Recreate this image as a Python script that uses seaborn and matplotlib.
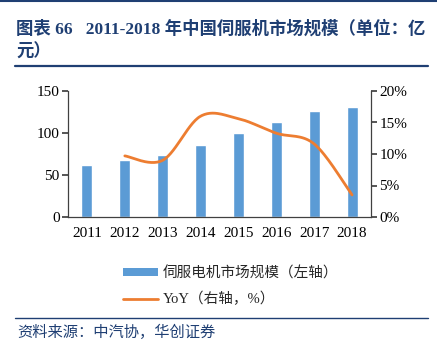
import numpy as np
import pandas as pd
import seaborn as sns
import matplotlib.pyplot as plt
from matplotlib.lines import Line2D
from matplotlib.patches import Patch

# --- data ---
years = ["2011", "2012", "2013", "2014", "2015", "2016", "2017", "2018"]
market_size = [62, 68, 74, 86, 100, 113, 126, 131]          # 亿元, left axis
yoy_years = ["2012", "2013", "2014", "2015", "2016", "2017", "2018"]
yoy_pct = [9.7, 9.0, 16.0, 15.6, 13.3, 11.6, 3.5]            # %, right axis

bar_color = "#5B9BD5"
line_color = "#ED7D31"
navy = "#1F3F73"

sns.set_theme(style="white")
plt.rcParams["font.family"] = ["Liberation Serif", "Noto Sans CJK SC", "DejaVu Sans"]
cjk = ["Noto Sans CJK SC", "DejaVu Sans"]
mixed = ["Liberation Serif", "Noto Sans CJK SC"]


def smooth(xs, ys, n=30):
    # Catmull-Rom path, like a spreadsheet "smoothed line"
    xs = np.asarray(xs, float)
    ys = np.asarray(ys, float)
    px = np.r_[xs[0], xs, xs[-1]]
    py = np.r_[ys[0], ys, ys[-1]]
    out_x, out_y = [], []
    t = np.linspace(0, 1, n)
    for i in range(1, len(px) - 2):
        for p, out in ((px, out_x), (py, out_y)):
            p0, p1, p2, p3 = p[i - 1], p[i], p[i + 1], p[i + 2]
            seg = 0.5 * (2 * p1 + (-p0 + p2) * t
                         + (2 * p0 - 5 * p1 + 4 * p2 - p3) * t ** 2
                         + (-p0 + 3 * p1 - 3 * p2 + p3) * t ** 3)
            out.extend(seg)
    return np.array(out_x), np.array(out_y)


df = pd.DataFrame({"year": years, "size": market_size})

fig = plt.figure(figsize=(4.37, 3.5), dpi=100)
ax = fig.add_axes([68 / 437, 1 - 217 / 350, (371 - 68) / 437, (217 - 91) / 350])

sns.barplot(data=df, x="year", y="size", color=bar_color, width=0.29,
            saturation=1, ax=ax)
ax.set_xlim(-0.5, len(years) - 0.5)
ax.set_ylim(0, 150)
ax.set_yticks([0, 50, 100, 150])
ax.set_xlabel("")
ax.set_ylabel("")

# x ticks sit between categories, as in the source
ax.set_xticks(np.arange(len(years)))
ax.tick_params(axis="x", length=0, labelsize=11, pad=7, colors="black")
ax.set_xticks(np.arange(-0.5, len(years)), minor=True)
ax.tick_params(axis="x", which="minor", length=4, direction="out", color="#404040")
ax.tick_params(axis="y", length=4, direction="out", labelsize=11, colors="black",
               color="#404040", left=True, pad=2)

ax2 = ax.twinx()
xpos = [years.index(y) for y in yoy_years]
sx, sy = smooth(xpos, yoy_pct)
ax2.plot(sx, sy, color=line_color, lw=2.0, solid_capstyle="round")
ax2.set_ylim(0, 20)
ax2.set_yticks([0, 5, 10, 15, 20])
ax2.set_yticklabels([f"{v}%" for v in [0, 5, 10, 15, 20]])
ax2.tick_params(axis="y", length=4, direction="out", labelsize=11, colors="black",
                color="#404040", right=True, pad=2)

for a in (ax, ax2):
    a.spines["top"].set_visible(False)
    for s in ("left", "right", "bottom"):
        a.spines[s].set_color("#404040")
        a.spines[s].set_linewidth(0.9)
    a.grid(False)
ax.spines["right"].set_visible(False)
ax2.spines["left"].set_visible(False)
ax2.spines["bottom"].set_visible(False)

# legend
handles = [Patch(facecolor=bar_color, edgecolor="none"),
           Line2D([0], [0], color=line_color, lw=2)]
labels = ["伺服电机市场规模（左轴）", "YoY（右轴，%）"]
fig.legend(handles, labels, loc="upper left", bbox_to_anchor=(110 / 437, 1 - 253 / 350),
           frameon=False, handlelength=2.4, handleheight=0.45, handletextpad=0.3,
           labelspacing=0.8, prop={"family": mixed, "size": 10.5})

# title block and rules
fig.add_artist(Line2D([0, 1], [1 - 1 / 350] * 2, color=navy, lw=1.5))
fig.text(16 / 437, 1 - 28.5 / 350, "图表 66   2011-2018 年中国伺服机市场规模（单位：亿",
         ha="left", va="center", fontsize=12.5, fontweight="bold", color=navy,
         family=mixed)
fig.text(16 / 437, 1 - 52 / 350, "元）", ha="left", va="center", fontsize=12.5,
         fontweight="bold", color=navy, family=cjk)
fig.add_artist(Line2D([15 / 437, 428 / 437], [1 - 66 / 350] * 2, color=navy, lw=1.6))
fig.add_artist(Line2D([15 / 437, 428 / 437], [1 - 318 / 350] * 2, color=navy, lw=1.0))
fig.text(17 / 437, 1 - 332 / 350, "资料来源：中汽协，华创证券", ha="left", va="center",
         fontsize=11, style="italic", color=navy, family=cjk)

fig.savefig("out.png", dpi=100)
